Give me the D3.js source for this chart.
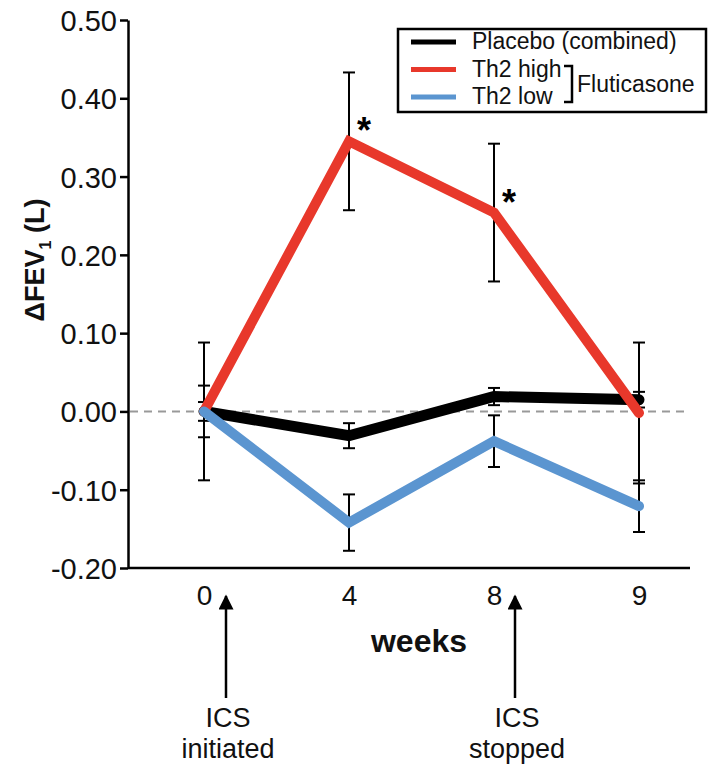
<!DOCTYPE html>
<html><head><meta charset="utf-8">
<script src="https://cdn.jsdelivr.net/npm/d3@7/dist/d3.min.js"></script>
<style>body{margin:0;background:#fff}svg{font-family:"Liberation Sans",Arial,sans-serif}</style>
</head><body>
<svg id="c" width="720" height="770"></svg>
<script>
const weeks = ["0", "4", "8", "9"];
const placebo = [0, -0.031, 0.019, 0.015];
const placeboErr = [0.012, 0.016, 0.011, 0.010];
const th2High = [0, 0.345, 0.254, -0.002];
const th2HighErr = [0.088, 0.088, 0.088, 0.090];
const th2Low = [0, -0.142, -0.038, -0.121];
const th2LowErr = [0.033, 0.036, 0.033, 0.033];
const yTicks = [-0.2, -0.1, 0, 0.1, 0.2, 0.3, 0.4, 0.5];
const seriesNames = ["Placebo (combined)", "Th2 high", "Th2 low"];
const colors = ["#000000", "#e8382b", "#5b95d0"];

const svg = d3.select("#c");
const x = d3.scalePoint().domain(weeks).range([204, 639]);
const y = d3.scaleLinear().domain([-0.2, 0.5]).range([568, 20]);
const axisLeftX = 128, axisRightX = 690;

// y axis
const yAxis = svg.append("g").attr("transform", `translate(${axisLeftX},0)`)
  .call(d3.axisLeft(y).tickValues(yTicks).tickFormat(d => d.toFixed(2)).tickSize(8).tickSizeOuter(0));
yAxis.select(".domain").attr("stroke", "#000").attr("stroke-width", 2.5);
yAxis.selectAll(".tick line").attr("stroke-width", 2.5);
yAxis.selectAll(".tick text").attr("font-size", 29).attr("fill", "#111").attr("x", -11).attr("dy", "0.36em");

// x axis
const xAxis = svg.append("g").attr("transform", `translate(0,${y(-0.2)})`)
  .call(d3.axisBottom(x).tickSize(0).tickSizeOuter(0));
xAxis.select(".domain").remove();
xAxis.selectAll(".tick text").attr("font-size", 28).attr("fill", "#111").attr("y", 37).attr("dy", 0);
svg.append("line").attr("x1", axisLeftX).attr("x2", axisRightX).attr("y1", y(-0.2)).attr("y2", y(-0.2))
  .attr("stroke", "#000").attr("stroke-width", 2.5);

// zero line
svg.append("line").attr("x1", axisLeftX + 2).attr("x2", axisRightX).attr("y1", y(0)).attr("y2", y(0))
  .attr("stroke", "#999").attr("stroke-width", 2).attr("stroke-dasharray", "8,6");

// error bars
const groups = [
  {vals: placebo, err: placeboErr},
  {vals: th2High, err: th2HighErr},
  {vals: th2Low, err: th2LowErr}
];
const eb = svg.append("g").attr("stroke", "#000").attr("stroke-width", 2);
groups.forEach(g => {
  g.vals.forEach((v, i) => {
    const cx = x(weeks[i]);
    eb.append("line").attr("x1", cx).attr("x2", cx).attr("y1", y(v + g.err[i])).attr("y2", y(v - g.err[i]));
    [v + g.err[i], v - g.err[i]].forEach(e => {
      eb.append("line").attr("x1", cx - 6).attr("x2", cx + 6).attr("y1", y(e)).attr("y2", y(e));
    });
  });
});

// lines
const line = d3.line().x((d, i) => x(weeks[i])).y(d => y(d));
[[placebo, colors[0], 11], [th2High, colors[1], 10], [th2Low, colors[2], 10]].forEach(([vals, col, w]) => {
  svg.append("path").datum(vals).attr("d", line).attr("fill", "none").attr("stroke", col)
    .attr("stroke-width", w).attr("stroke-linejoin", "miter").attr("stroke-linecap", "round");
});

// asterisks
[1, 2].forEach(i => {
  svg.append("text").attr("x", x(weeks[i]) + 15).attr("y", y(th2High[i]) + 2)
    .attr("text-anchor", "middle").attr("font-size", 36).attr("font-weight", "bold").text("*");
});

// y title
const yt = svg.append("text").attr("transform", "translate(44,260) rotate(-90)")
  .attr("text-anchor", "middle").attr("font-size", 27).attr("font-weight", "bold").attr("fill", "#111");
yt.append("tspan").text("ΔFEV");
yt.append("tspan").attr("font-size", 16).attr("dy", 7).text("1");
yt.append("tspan").attr("dy", -7).text(" (L)");

// x title
svg.append("text").attr("x", 419).attr("y", 652).attr("text-anchor", "middle")
  .attr("font-size", 32).attr("font-weight", "bold").attr("fill", "#111").text("weeks");

// arrows
const defs = svg.append("defs");
defs.append("marker").attr("id", "ah").attr("viewBox", "0 0 10 10").attr("refX", 9).attr("refY", 5)
  .attr("markerWidth", 9).attr("markerHeight", 6).attr("markerUnits", "strokeWidth").attr("orient", "auto")
  .append("path").attr("d", "M0,0 L10,5 L0,10 Z").attr("fill", "#000");
const annotations = [{x: 226, label: ["ICS", "initiated"]}, {x: 515, label: ["ICS", "stopped"]}];
annotations.forEach(a => {
  svg.append("line").attr("x1", a.x).attr("x2", a.x).attr("y1", 698).attr("y2", 596)
    .attr("stroke", "#000").attr("stroke-width", 2.5).attr("marker-end", "url(#ah)");
  a.label.forEach((t, k) => {
    svg.append("text").attr("x", a.x + 2).attr("y", 727 + k * 31).attr("text-anchor", "middle")
      .attr("font-size", 27).attr("fill", "#111").text(t);
  });
});

// legend
const lg = svg.append("g");
lg.append("rect").attr("x", 398).attr("y", 29).attr("width", 308).attr("height", 83)
  .attr("fill", "#fff").attr("stroke", "#000").attr("stroke-width", 2.5);
seriesNames.forEach((n, i) => {
  const ly = 42 + i * 27.5;
  lg.append("line").attr("x1", 411).attr("x2", 456).attr("y1", ly).attr("y2", ly)
    .attr("stroke", colors[i]).attr("stroke-width", 5);
  lg.append("text").attr("x", 472).attr("y", ly + 7).attr("font-size", 23).attr("fill", "#111").text(n);
});
lg.append("path").attr("d", "M564,66 H572 V102 H564").attr("fill", "none").attr("stroke", "#000").attr("stroke-width", 2.5);
lg.append("text").attr("x", 577).attr("y", 92).attr("font-size", 23).attr("fill", "#111").text("Fluticasone");
</script>
</body></html>
